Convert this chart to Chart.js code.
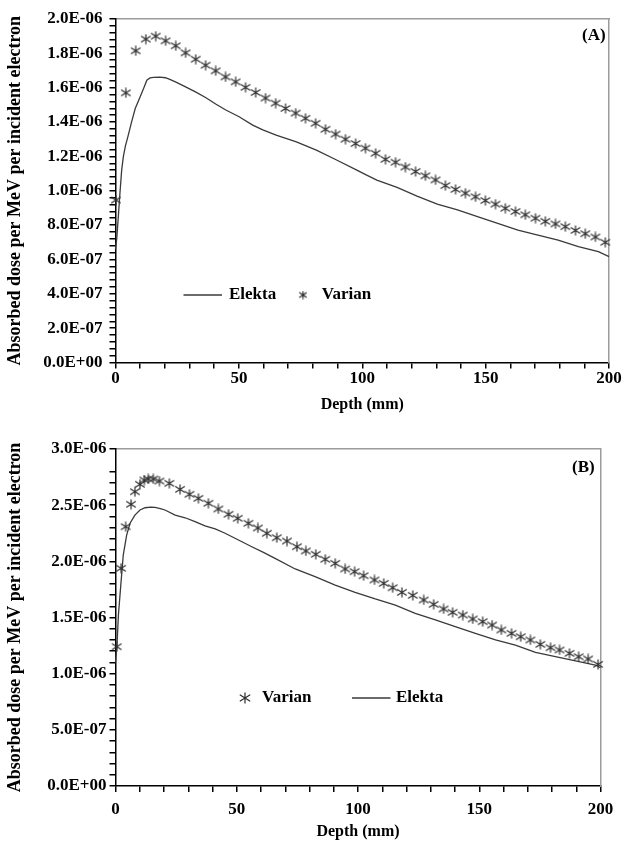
<!DOCTYPE html>
<html><head><meta charset="utf-8">
<script src="https://cdn.jsdelivr.net/npm/chart.js@4.4.1/dist/chart.umd.min.js"></script>
<style>
html,body{margin:0;padding:0;background:#fff;overflow:hidden;}
#wrapA{position:absolute;left:0;top:0;width:624px;height:425px;}
#wrapB{position:absolute;left:0;top:425px;width:624px;height:427px;}
.panel{position:absolute;font-family:'Liberation Serif','Times New Roman',serif;font-weight:bold;font-size:17px;color:#000;line-height:1;white-space:nowrap;}
</style></head><body>
<div id="wrapA"><canvas id="cA" width="624" height="425"></canvas></div>
<div id="wrapB"><canvas id="cB" width="624" height="427"></canvas></div>
<div class="panel" id="labA" style="left:582px;top:26px;">(A)</div>
<div class="panel" id="labB" style="left:572px;top:458px;">(B)</div>
<script>
// ---------- data (dose in units of 1E-06 per MeV per incident electron) ----------
const UNIT = 1e-6;
const xTickLabels = ['0', '50', '100', '150', '200'];
const yTickLabelsA = ['0.0E+00','2.0E-07','4.0E-07','6.0E-07','8.0E-07','1.0E-06','1.2E-06','1.4E-06','1.6E-06','1.8E-06','2.0E-06'];
const yTickLabelsB = ['0.0E+00','5.0E-07','1.0E-06','1.5E-06','2.0E-06','2.5E-06','3.0E-06'];
const seriesNames = ['Elekta', 'Varian'];

// Panel (A)
const depthElektaA = [0, 0.5, 1, 1.8, 2.5, 3.2, 4, 5, 6.5, 8, 10, 11.5, 12.7, 14, 15.4, 18, 20.2, 22, 24.3, 28.4, 32.4, 36.5, 40.6, 44.7, 50.1, 55.6, 59.7, 65.1, 73.3, 81.4, 89.6, 97.8, 101.8, 105.9, 114.1, 122.2, 130.4, 138.6, 146.7, 154.9, 163.1, 171.2, 179.4, 187.6, 195.7, 200];
const doseElektaA  = [0.66, 0.72, 0.82, 0.985, 1.12, 1.20, 1.26, 1.314, 1.40, 1.479, 1.547, 1.60, 1.644, 1.657, 1.660, 1.661, 1.658, 1.648, 1.634, 1.605, 1.576, 1.543, 1.505, 1.470, 1.431, 1.382, 1.355, 1.324, 1.285, 1.237, 1.179, 1.120, 1.091, 1.062, 1.020, 0.969, 0.922, 0.888, 0.849, 0.810, 0.771, 0.742, 0.713, 0.674, 0.645, 0.616];
const depthVarianA = [0.2, 4.2, 8.2, 12.3, 16.3, 20.3, 24.4, 28.4, 32.5, 36.5, 40.6, 44.6, 48.7, 52.7, 56.8, 60.8, 64.9, 68.9, 73.0, 77.0, 81.1, 85.1, 89.2, 93.2, 97.3, 101.3, 105.4, 109.4, 113.5, 117.5, 121.6, 125.6, 129.7, 133.7, 137.8, 141.8, 145.9, 149.9, 154.0, 158.0, 162.1, 166.1, 170.2, 174.2, 178.3, 182.3, 186.4, 190.4, 194.5, 198.5];
const doseVarianA  = [0.946, 1.570, 1.815, 1.883, 1.900, 1.873, 1.844, 1.803, 1.766, 1.731, 1.698, 1.663, 1.634, 1.602, 1.572, 1.540, 1.510, 1.479, 1.452, 1.422, 1.393, 1.358, 1.330, 1.300, 1.275, 1.248, 1.218, 1.183, 1.166, 1.138, 1.112, 1.087, 1.063, 1.030, 1.008, 0.986, 0.965, 0.943, 0.922, 0.898, 0.879, 0.860, 0.840, 0.822, 0.807, 0.791, 0.769, 0.750, 0.731, 0.700];

// Panel (B)
const depthElektaB = [0, 0.6, 1.2, 2.3, 3.2, 4.6, 6.0, 8.0, 10.1, 12.2, 14.5, 16.3, 18.5, 20.4, 24.6, 28.7, 32.8, 36.9, 41.1, 45.2, 50.7, 56.2, 61, 65.8, 74.1, 82.3, 90.6, 98.8, 107.1, 115.4, 123.6, 131.9, 140.1, 148.4, 156.7, 164.9, 173.2, 181.4, 189.7, 197.9, 200];
const doseElektaB  = [1.10, 1.25, 1.522, 1.819, 2.056, 2.234, 2.339, 2.412, 2.457, 2.477, 2.482, 2.481, 2.470, 2.457, 2.412, 2.388, 2.353, 2.315, 2.288, 2.250, 2.190, 2.130, 2.080, 2.027, 1.932, 1.863, 1.789, 1.724, 1.665, 1.611, 1.537, 1.478, 1.418, 1.359, 1.300, 1.255, 1.190, 1.151, 1.113, 1.077, 1.053];
const depthVarianB = [0.5, 2.3, 4.2, 6.4, 8.0, 10.1, 11.9, 13.5, 15.6, 18.1, 22.2, 26.6, 30.5, 34.2, 38.3, 42.4, 46.6, 50.4, 54.8, 58.7, 62.4, 66.5, 70.7, 74.8, 78.5, 82.6, 86.5, 90.6, 94.7, 98.6, 102.3, 106.8, 110.6, 114.3, 118.1, 122.6, 127.1, 131.2, 135.3, 139.0, 143.2, 147.3, 151.4, 155.3, 159.1, 163.3, 167.1, 171.1, 175.2, 179.4, 183.1, 187.2, 191.0, 194.9, 199.0];
const doseVarianB  = [1.240, 1.938, 2.308, 2.508, 2.620, 2.686, 2.724, 2.733, 2.733, 2.715, 2.694, 2.641, 2.597, 2.561, 2.517, 2.466, 2.419, 2.383, 2.339, 2.297, 2.250, 2.210, 2.181, 2.130, 2.092, 2.063, 2.018, 1.982, 1.932, 1.908, 1.872, 1.834, 1.804, 1.765, 1.724, 1.697, 1.656, 1.617, 1.576, 1.546, 1.522, 1.487, 1.463, 1.433, 1.389, 1.359, 1.329, 1.300, 1.261, 1.231, 1.211, 1.181, 1.151, 1.131, 1.083];

// ---------- styling helpers ----------
const SERIF = "'Liberation Serif', 'Times New Roman', serif";
const LINE_COLOR = '#3a3a3a';
const MARK_COLOR = '#2e2e2e';
const FRAME_COLOR = '#9c9c9c';

function makeMarker(size, offsetX, totalW) {
  const c = document.createElement('canvas');
  c.width = totalW; c.height = size + 1;
  const g = c.getContext('2d');
  g.strokeStyle = MARK_COLOR; g.lineWidth = 1.2;
  const cx = totalW / 2 + offsetX, cy = (size + 1) / 2, r = size / 2;
  g.beginPath();
  g.moveTo(cx, cy - r); g.lineTo(cx, cy + r);
  const dx = r * 0.95, dy = r * 0.6;
  g.moveTo(cx - dx, cy - dy); g.lineTo(cx + dx, cy + dy);
  g.moveTo(cx - dx, cy + dy); g.lineTo(cx + dx, cy - dy);
  g.stroke();
  return c;
}
function makeLineIcon(totalW, x0, x1) {
  const c = document.createElement('canvas');
  c.width = totalW; c.height = 4;
  const g = c.getContext('2d');
  g.strokeStyle = LINE_COLOR; g.lineWidth = 1.4;
  g.beginPath(); g.moveTo(x0, 2); g.lineTo(x1, 2); g.stroke();
  return c;
}
const dataMarker = makeMarker(10, 0, 12);

function pts(xs, ys) { return xs.map((x, i) => ({ x: x, y: ys[i] * UNIT })); }

function majorLabel(labels, step) {
  return function (v) {
    const k = Math.round(v / step);
    return Math.abs(v - k * step) < step * 1e-3 && labels[k] !== undefined ? labels[k] : '';
  };
}

const legendPlacer = {
  id: 'legendPlacer',
  afterLayout(chart, args, opts) {
    const lg = chart.legend;
    if (!lg) return;
    lg.left = opts.left; lg.top = opts.top;
    lg.right = chart.width; lg.bottom = opts.top + 70;
    lg.width = lg.right - lg.left; lg.height = 70;
  }
};

function elektaDS(xs, ys) {
  return { label: seriesNames[0], data: pts(xs, ys), borderColor: LINE_COLOR, backgroundColor: LINE_COLOR,
    borderWidth: 1.3, pointRadius: 0, tension: 0, fill: false, clip: false, xAxisID: 'x', yAxisID: 'y' };
}
function varianDS(xs, ys) {
  return { label: seriesNames[1], data: pts(xs, ys), showLine: false, borderColor: MARK_COLOR, backgroundColor: MARK_COLOR,
    pointStyle: dataMarker, pointRadius: 5, clip: false, xAxisID: 'x', yAxisID: 'y' };
}

function buildChart(canvas, o) {
  const tickFont = { family: SERIF, size: 17, weight: 'bold' };
  return new Chart(canvas, {
    type: 'line',
    data: { datasets: o.datasets },
    options: {
      responsive: false, animation: false, events: [],
      layout: { padding: { left: 0, top: o.padTop, right: o.padRight, bottom: 0 } },
      plugins: {
        tooltip: { enabled: false },
        legendPlacer: { left: o.legendLeft, top: o.legendTop },
        legend: {
          display: true, position: 'top', align: 'start', maxHeight: 0.001,
          labels: {
            usePointStyle: true, pointStyleWidth: 24, boxHeight: 17, padding: o.legendPad,
            color: '#000', font: { family: SERIF, size: 17, weight: 'bold' },
            generateLabels(chart) {
              const items = Chart.defaults.plugins.legend.labels.generateLabels(chart);
              items.forEach(it => { it.pointStyle = o.legendIcons[it.text]; });
              return items;
            }
          }
        }
      },
      scales: {
        x: {
          type: 'linear', position: 'bottom', min: 0, max: 200,
          ticks: { stepSize: 10, autoSkip: false, maxRotation: 0, padding: o.xTickPad, color: '#000', font: tickFont,
                   callback: majorLabel(xTickLabels, 50) },
          grid: { display: true, drawOnChartArea: false, drawTicks: true, tickLength: 6, color: '#000',
                  tickColor: '#000', lineWidth: 1.5, tickWidth: 1.5 },
          border: { color: '#000', width: 1.5 },
          title: { display: true, text: 'Depth (mm)', color: '#000', font: { family: SERIF, size: 16, weight: 'bold' },
                   padding: { top: 0, bottom: o.xTitlePad } },
          afterFit: (s) => { s.height = o.xAxisH; }
        },
        x2: {
          type: 'linear', position: 'top', min: 0, max: 200, display: true,
          ticks: { display: false }, grid: { display: false, drawTicks: false },
          border: { color: FRAME_COLOR, width: 1.5 },
          afterFit: (s) => { s.height = 0; }
        },
        y: {
          type: 'linear', position: 'left', min: 0, max: o.yMax,
          ticks: { stepSize: o.yMinor, autoSkip: false, padding: o.yTickPad, color: '#000', font: tickFont,
                   callback: majorLabel(o.yLabels, o.yMajor) },
          grid: { display: true, drawOnChartArea: false, drawTicks: true, tickLength: 6, color: '#000',
                  tickColor: '#000', lineWidth: 1.5, tickWidth: 1.5 },
          border: { color: '#000', width: 1.5 },
          title: { display: true, text: 'Absorbed dose per MeV per incident electron', color: '#000',
                   font: { family: SERIF, size: 18, weight: 'bold' }, padding: { top: 5, bottom: 0 } },
          afterFit: (s) => { s.width = 115.5; }
        },
        y2: {
          type: 'linear', position: 'right', min: 0, max: o.yMax, display: true,
          ticks: { display: false }, grid: { display: false, drawTicks: false },
          border: { color: FRAME_COLOR, width: 1.5 },
          afterFit: (s) => { s.width = 0; }
        }
      }
    },
    plugins: [legendPlacer]
  });
}

// Panel A: legend order Elekta, Varian
buildChart(document.getElementById('cA'), {
  datasets: [elektaDS(depthElektaA, doseElektaA), varianDS(depthVarianA, doseVarianA)],
  padTop: 19, padRight: 15, xAxisH: 62.5, xTickPad: 0, xTitlePad: 10.4, yTickPad: 7,
  yMax: 2.0e-6, yMinor: 0.04e-6, yMajor: 0.2e-6, yLabels: yTickLabelsA,
  legendLeft: 183.5, legendTop: 273.5, legendPad: 13,
  legendIcons: { 'Elekta': makeLineIcon(57, 0, 42), 'Varian': makeMarker(8, 1.8, 12) }
});

// Panel B: legend order Varian, Elekta
buildChart(document.getElementById('cB'), {
  datasets: [varianDS(depthVarianB, doseVarianB), elektaDS(depthElektaB, doseElektaB)],
  padTop: 24, padRight: 23.5, xAxisH: 66, xTickPad: 7, xTitlePad: 10.4, yTickPad: 3,
  yMax: 3.0e-6, yMinor: 0.1e-6, yMajor: 0.5e-6, yLabels: yTickLabelsB,
  legendLeft: 177.5, legendTop: 212.5, legendPad: 52,
  legendIcons: { 'Varian': makeMarker(11, 3.5, 19), 'Elekta': makeLineIcon(46, 0, 38) }
});
</script>
</body></html>
